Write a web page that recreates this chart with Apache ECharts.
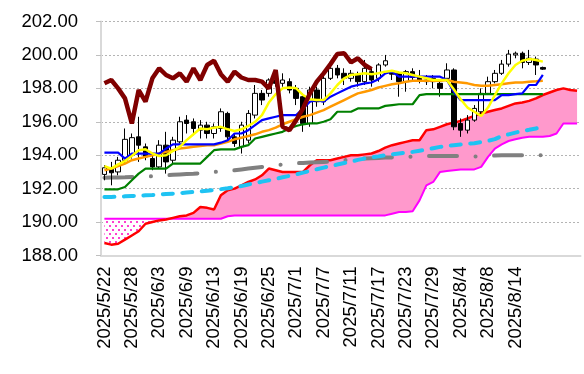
<!DOCTYPE html>
<html><head><meta charset="utf-8">
<script src="https://cdn.jsdelivr.net/npm/echarts@6/dist/echarts.min.js"></script>
<style>html,body{margin:0;padding:0;background:#fff}#c{width:584px;height:374px}</style>
</head><body><div id="c"></div>
<script>
const categories = ["2025/5/22","2025/5/23","2025/5/26","2025/5/27","2025/5/28","2025/5/29","2025/5/30","2025/6/2","2025/6/3","2025/6/4","2025/6/5","2025/6/6","2025/6/9","2025/6/10","2025/6/11","2025/6/12","2025/6/13","2025/6/16","2025/6/17","2025/6/18","2025/6/19","2025/6/20","2025/6/23","2025/6/24","2025/6/25","2025/6/26","2025/6/27","2025/6/30","2025/7/1","2025/7/2","2025/7/3","2025/7/4","2025/7/7","2025/7/8","2025/7/9","2025/7/10","2025/7/11","2025/7/14","2025/7/15","2025/7/16","2025/7/17","2025/7/18","2025/7/21","2025/7/22","2025/7/23","2025/7/24","2025/7/25","2025/7/28","2025/7/29","2025/7/30","2025/7/31","2025/8/1","2025/8/4","2025/8/5","2025/8/6","2025/8/7","2025/8/8","2025/8/11","2025/8/12","2025/8/13","2025/8/14","2025/8/15","2025/8/18","2025/8/19","2025/8/20","2025/8/21","2025/8/22","2025/8/25","2025/8/26","2025/8/27"];
const yTicks = [188,190,192,194,196,198,200,202];

const opens  = [192.85,193.15,193.0,193.7,194.0,195.1,194.5,193.8,193.3,194.6,193.7,194.8,196.1,196.0,195.5,195.8,195.3,195.6,196.5,195.1,194.5,194.9,196.4,197.7,197.7,198.5,198.3,198.4,198.0,197.5,195.9,197.9,197.2,198.6,199.2,198.9,198.6,198.8,198.4,199.0,198.6,199.4,199.05,198.9,198.4,199.0,198.7,198.4,198.6,198.3,198.6,199.1,195.9,195.5,196.1,196.6,197.7,198.4,198.9,199.45,200.0,200.1,199.55,199.75,199.25];
const closes = [193.25,192.95,193.7,194.95,195.05,194.6,193.9,193.3,194.6,193.6,194.9,196.0,195.9,195.6,195.8,195.3,195.7,196.6,195.1,194.7,195.8,196.5,197.7,197.3,198.5,198.3,198.5,197.9,197.4,195.9,197.9,197.2,198.6,199.2,198.8,198.6,198.9,198.4,199.2,198.5,199.4,199.65,198.85,198.4,199.0,198.65,198.5,198.5,198.4,198.0,199.1,195.7,195.5,196.1,196.8,197.7,198.4,198.9,199.45,200.05,200.1,199.55,199.8,199.4,199.15];
const lows   = [192.5,192.2,192.8,193.5,193.8,193.6,193.7,193.1,193.2,192.9,193.5,194.7,195.3,195.2,195.0,195.0,195.0,195.4,194.9,194.5,194.1,194.7,196.2,197.0,197.5,198.1,198.1,197.7,197.0,195.4,195.7,196.9,197.0,198.5,198.6,198.2,198.4,198.1,198.2,198.1,198.4,199.3,198.5,197.5,197.8,198.4,198.3,198.2,198.0,197.5,198.4,195.5,195.1,195.3,196.0,196.4,197.6,198.3,198.8,199.3,199.8,199.2,199.4,198.8,199.1];
const highs  = [193.4,193.6,193.9,195.6,195.3,196.3,194.7,194.0,194.9,195.4,195.1,196.3,196.4,196.2,196.1,196.0,195.9,196.8,196.6,195.3,196.0,196.7,198.2,197.9,198.6,198.7,198.9,198.6,198.2,197.7,198.1,198.1,198.8,199.4,199.4,199.2,199.1,199.0,199.7,199.2,199.5,200.0,199.1,199.0,199.1,199.2,199.1,198.8,198.8,198.5,199.5,199.2,196.2,196.4,197.0,198.0,198.7,199.1,199.7,200.3,200.2,200.2,200.3,199.9,199.3];

const tenkan = [194.15,194.15,194.15,193.8,194.1,194.1,194.1,194.1,194.1,194.4,194.65,194.65,194.65,194.65,194.65,194.65,194.65,194.75,194.9,195.3,195.3,195.5,195.8,196.1,196.2,196.3,196.4,196.4,196.4,196.8,197.2,197.3,197.2,197.5,197.7,197.9,198.1,198.2,198.3,198.35,198.55,198.9,199.0,198.7,198.7,198.7,198.7,198.7,198.7,198.7,198.5,197.8,197.3,197.3,197.3,197.3,197.3,197.3,197.6,197.6,197.65,197.7,198.2,198.2,198.8];
const kijun = [191.96,191.96,191.96,192.1,192.5,192.9,193.2,193.2,193.2,193.2,193.5,193.5,193.5,193.5,193.5,193.9,194.3,194.35,194.35,194.35,194.5,194.6,195.0,195.1,195.2,195.3,195.4,195.6,195.75,195.85,195.9,195.9,196.0,196.15,196.6,196.6,196.6,196.8,196.8,196.8,196.8,196.95,197.0,197.05,197.05,197.05,197.6,197.66,197.66,197.66,197.66,197.66,197.66,197.66,197.66,197.66,197.66,197.66,197.66,197.66,197.66,197.66,197.66,197.66,197.66];
const maShort = [193.35,193.2,193.45,193.65,193.95,194.3,194.35,194.1,193.95,194.0,194.25,194.5,194.9,195.25,195.6,195.55,195.65,195.7,195.55,195.45,195.55,195.75,196.0,196.4,197.15,197.65,198.0,198.05,198.0,197.6,197.35,197.3,197.3,197.7,198.2,198.6,198.8,198.85,198.9,198.85,198.9,199.0,199.05,198.95,198.9,198.8,198.7,198.6,198.5,198.5,198.5,197.95,197.35,196.85,196.6,196.35,196.85,197.6,198.3,198.9,199.4,199.65,199.75,199.7,199.6];
const maMid = [193.1,193.2,193.35,193.5,193.7,193.8,193.9,194.0,194.1,194.2,194.3,194.4,194.45,194.5,194.55,194.6,194.6,194.7,194.8,194.95,195.05,195.15,195.25,195.4,195.5,195.65,195.85,196.0,196.15,196.3,196.4,196.55,196.7,196.9,197.1,197.3,197.5,197.7,197.8,197.9,198.05,198.15,198.25,198.3,198.4,198.45,198.45,198.45,198.45,198.45,198.5,198.4,198.35,198.3,198.2,198.15,198.15,198.2,198.25,198.3,198.35,198.35,198.4,198.42,198.45];
const maLong = [192.65,192.66,192.67,192.68,192.7,192.71,192.72,192.74,192.76,192.8,192.83,192.85,192.87,192.89,192.92,192.95,193.0,193.03,193.07,193.1,193.15,193.2,193.25,193.3,193.35,193.4,193.45,193.5,193.52,193.54,193.56,193.58,193.6,193.62,193.66,193.7,193.74,193.78,193.8,193.82,193.84,193.86,193.87,193.88,193.9,193.91,193.93,193.95,193.96,193.96,193.96,193.95,193.95,193.93,193.92,193.92,193.95,193.98,194.0,194.0,194.0,194.0,194.0,194.0,194.0];
const maVeryLong = [191.5,191.5,191.52,191.54,191.56,191.58,191.6,191.62,191.65,191.68,191.7,191.73,191.77,191.8,191.83,191.87,191.92,191.97,192.02,192.08,192.15,192.25,192.33,192.42,192.5,192.58,192.68,192.76,192.86,192.96,193.06,193.16,193.26,193.35,193.44,193.53,193.62,193.72,193.8,193.87,193.93,194.0,194.05,194.1,194.15,194.2,194.27,194.34,194.42,194.5,194.56,194.6,194.64,194.68,194.72,194.78,194.86,194.96,195.15,195.25,195.35,195.45,195.52,195.6,195.68];
const chikou = [198.3,198.5,198.0,197.4,195.9,197.9,197.2,198.6,199.2,198.8,198.6,198.9,198.4,199.2,198.5,199.4,199.65,198.85,198.4,199.0,198.65,198.5,198.5,198.4,198.0,199.1,195.7,195.5,196.1,196.8,197.7,198.4,198.9,199.45,200.05,200.1,199.55,199.8,199.4,199.15];
const senkouA = [188.75,188.65,188.7,188.95,189.2,189.45,189.9,190.0,190.1,190.15,190.25,190.35,190.4,190.55,190.9,190.85,190.75,191.6,191.9,192.0,192.2,192.4,192.55,192.8,193.2,193.1,193.0,193.0,193.0,193.0,193.4,193.7,193.7,193.7,193.8,193.9,194.0,194.0,194.05,194.1,194.25,194.45,194.6,194.7,194.8,194.9,194.9,195.5,195.55,195.7,195.85,195.95,196.05,196.2,196.35,196.5,196.6,196.7,196.8,196.95,197.1,197.15,197.25,197.4,197.6,197.75,197.9,198.0,197.9,197.85];
const senkouB = [190.2,190.2,190.2,190.2,190.2,190.2,190.2,190.2,190.2,190.2,190.2,190.2,190.2,190.2,190.2,190.2,190.2,190.2,190.35,190.4,190.4,190.4,190.4,190.4,190.4,190.4,190.4,190.4,190.4,190.4,190.4,190.4,190.4,190.4,190.4,190.4,190.4,190.4,190.4,190.4,190.4,190.4,190.5,190.6,190.6,190.65,191.3,192.2,192.4,193.0,193.05,193.1,193.15,193.15,193.15,193.3,193.9,194.4,194.65,194.85,194.95,195.05,195.1,195.1,195.1,195.15,195.3,195.9,195.9,195.9];

// derived structures for the library
const candleData = opens.map((o, i) => [o, closes[i], lows[i], highs[i]]);
const cloudBase = senkouA.map((a, i) => Math.min(a, senkouB[i]));
const cloudUp = senkouA.map((a, i) => Math.max(a - senkouB[i], 0));
const cloudDown = senkouA.map((a, i) => Math.max(senkouB[i] - a, 0));

const pc = document.createElement('canvas');
pc.width = 6; pc.height = 8;
const pctx = pc.getContext('2d');
pctx.fillStyle = '#ffffff'; pctx.fillRect(0, 0, 6, 8);
pctx.fillStyle = '#ff40d0';
pctx.fillRect(1, 1, 2, 2); pctx.fillRect(4, 5, 2, 2);

const chart = echarts.init(document.getElementById('c'), null, {renderer: 'canvas'});
const lineBase = {type: 'line', symbol: 'none', silent: true, animation: false};
chart.setOption({
  animation: false,
  backgroundColor: '#ffffff',
  grid: {left: 101, right: 3.5, top: 21.5, bottom: 118.5, containLabel: false},
  xAxis: {
    type: 'category', data: categories, boundaryGap: true,
    axisLine: {show: true, lineStyle: {color: '#d9d9d9', width: 2}},
    axisTick: {show: false},
    axisLabel: {
      rotate: 90, margin: 11, color: '#000', fontSize: 18.5, fontFamily: 'Liberation Sans, Arial, sans-serif',
      interval: (idx) => idx % 4 === 0 && idx <= 60
    },
    splitLine: {show: false}
  },
  yAxis: {
    type: 'value', min: yTicks[0], max: yTicks[yTicks.length - 1], interval: 2,
    axisLine: {show: true, lineStyle: {color: '#d9d9d9', width: 2}},
    axisTick: {show: true, length: 5, lineStyle: {color: '#bfbfbf'}},
    axisLabel: {margin: 23, color: '#000', fontSize: 18.5, fontFamily: 'Liberation Sans, Arial, sans-serif',
      formatter: (v) => v.toFixed(2)},
    splitLine: {show: true, lineStyle: {color: '#b4b4b4', type: [2, 2], width: 1}}
  },
  series: [
    Object.assign({}, lineBase, {name: 'base', data: cloudBase, stack: 'cloud', z: 1, lineStyle: {opacity: 0}}),
    Object.assign({}, lineBase, {name: 'up', data: cloudUp, stack: 'cloud', z: 1, lineStyle: {opacity: 0},
      areaStyle: {color: '#ff99cc', opacity: 1}}),
    Object.assign({}, lineBase, {name: 'down', data: cloudDown, stack: 'cloud', z: 1, lineStyle: {opacity: 0},
      areaStyle: {color: {image: pc, repeat: 'repeat'}, opacity: 1}}),
    Object.assign({}, lineBase, {name: 'senkouB', data: senkouB, z: 2, lineStyle: {color: '#ff00ff', width: 2}}),
    Object.assign({}, lineBase, {name: 'senkouA', data: senkouA, z: 2, lineStyle: {color: '#ff0000', width: 2.5}}),
    Object.assign({}, lineBase, {name: 'maLong', data: maLong, z: 2, lineStyle: {color: '#808080', width: 4, type: [28, 18.5, 0.1, 18.5], cap: 'round'}}),
    Object.assign({}, lineBase, {name: 'maVeryLong', data: maVeryLong, z: 2, lineStyle: {color: '#1fc3f3', width: 4, type: [10, 9.5], cap: 'round'}}),
    {type: 'candlestick', name: 'price', data: candleData, z: 3, barWidth: 5, silent: true,
      itemStyle: {color: '#ffffff', color0: '#000000', borderColor: '#000000', borderColor0: '#000000', borderWidth: 1}},
    Object.assign({}, lineBase, {name: 'maMid', data: maMid, z: 4, lineStyle: {color: '#ff9900', width: 2.5}}),
    Object.assign({}, lineBase, {name: 'kijun', data: kijun, z: 4, lineStyle: {color: '#008000', width: 2.2}}),
    Object.assign({}, lineBase, {name: 'tenkan', data: tenkan, z: 4, lineStyle: {color: '#0000ff', width: 2.2}}),
    Object.assign({}, lineBase, {name: 'maShort', data: maShort, z: 4, lineStyle: {color: '#ffff00', width: 2.5}}),
    Object.assign({}, lineBase, {name: 'chikou', data: chikou, z: 5, lineStyle: {color: '#800000', width: 4.5}})
  ]
});
</script></body></html>
